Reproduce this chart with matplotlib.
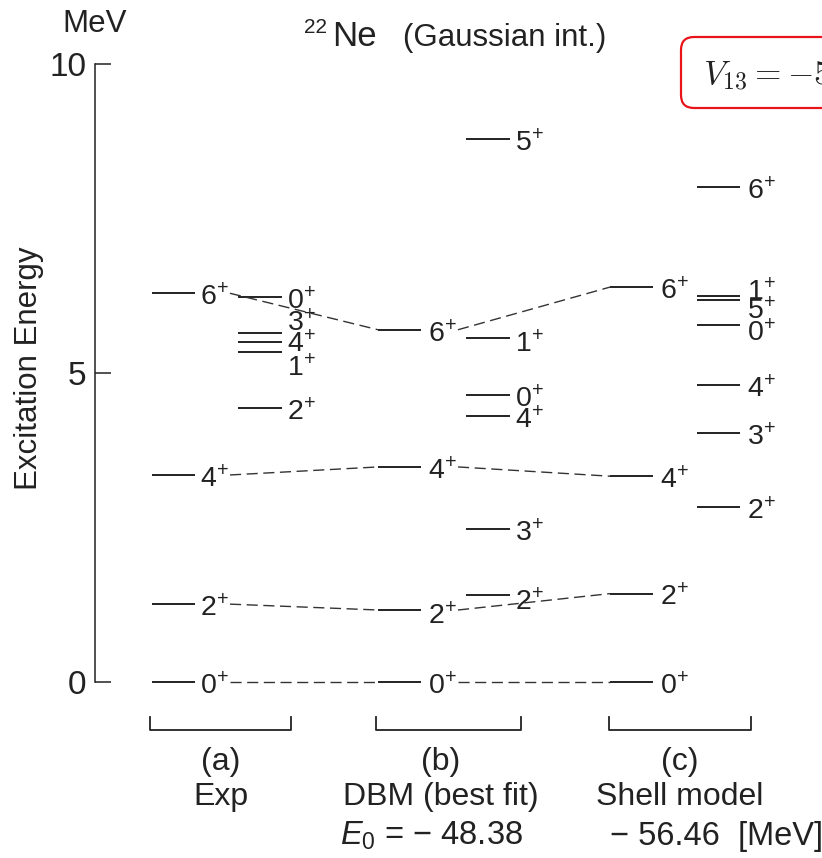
import matplotlib
matplotlib.use("Agg")
import matplotlib.pyplot as plt
from matplotlib.patches import FancyBboxPatch

plt.rcParams['font.family'] = ['Liberation Sans', 'DejaVu Sans']
plt.rcParams['mathtext.fontset'] = 'custom'
plt.rcParams['mathtext.rm'] = 'Liberation Sans'
plt.rcParams['mathtext.it'] = 'Liberation Sans:italic'
plt.rcParams['mathtext.bf'] = 'Liberation Sans:bold'
plt.rcParams['lines.scale_dashes'] = False

INK = '#222222'

# level energies in MeV, spin J of each J^+ state
exp_spin = [0, 2, 4, 6]
exp_e = [0.0, 1.26, 3.35, 6.29]
exp2_spin = [2, 1, 4, 3, 0]
exp2_e = [4.43, 5.34, 5.50, 5.65, 6.23]

dbm_spin = [0, 2, 4, 6]
dbm_e = [0.0, 1.165, 3.48, 5.70]
dbm2_spin = [2, 3, 4, 0, 1, 5]
dbm2_e = [1.40, 2.47, 4.30, 4.64, 5.57, 8.79]

sm_spin = [0, 2, 4, 6]
sm_e = [0.0, 1.43, 3.33, 6.39]
sm2_spin = [2, 3, 4, 0, 5, 1, 6]
sm2_e = [2.83, 4.03, 4.81, 5.78, 6.18, 6.25, 8.01]

panel_tags = ['(a)', '(b)', '(c)']
panel_names = ['Exp', 'DBM (best fit)', 'Shell model']
e0_dbm = -48.38
e0_sm = -56.46

W, H = 822, 858
PX_PER_MEV = 61.8
Y0 = 682  # pixel row of 0 MeV

fig = plt.figure(figsize=(W / 100, H / 100), dpi=100)
ax = fig.add_axes([0, 0, 1, 1])
ax.set_xlim(0, W)
ax.set_ylim(-(H - Y0) / PX_PER_MEV, Y0 / PX_PER_MEV)
ax.patch.set_alpha(0)

for s in ['top', 'right', 'bottom']:
    ax.spines[s].set_visible(False)
ax.spines['left'].set_position(('data', 95))
ax.spines['left'].set_bounds(0, 10)
ax.spines['left'].set_linewidth(1.1)
ax.spines['left'].set_color(INK)
ax.set_xticks([])
ax.set_yticks([0, 5, 10])
ax.tick_params(axis='y', direction='in', length=11.5, width=1.1, pad=6,
               labelsize=24, colors=INK)


def fpx(x, y):
    return x / W, 1 - y / H


# column layout: line start, line end, label x (pixels)
cols = {
    'exp': (152, 195, 200), 'exp2': (238, 282, 287),
    'dbm': (378, 421, 428), 'dbm2': (466, 510, 515),
    'sm': (610, 653, 660), 'sm2': (697, 740, 747),
}
nudge = {
    'exp2': {3: -14, 4: -2, 1: 12},
    'dbm': {2: 2},
    'dbm2': {2: 3, 1: 2},
    'sm2': {1: -8, 5: 7, 0: 4},
}
schemes = [('exp', exp_spin, exp_e), ('exp2', exp2_spin, exp2_e),
           ('dbm', dbm_spin, dbm_e), ('dbm2', dbm2_spin, dbm2_e),
           ('sm', sm_spin, sm_e), ('sm2', sm2_spin, sm2_e)]

for key, spins, energies in schemes:
    x0, x1, lx = cols[key]
    for j, e in zip(spins, energies):
        ax.plot([x0, x1], [e, e], color=INK, lw=1.4, solid_capstyle='butt')
        dy = 12 + nudge.get(key, {}).get(j, 0)
        ax.annotate(rf"$\mathregular{{{j}^{{+}}}}$", xy=(lx, e),
                    xytext=(0, -dy * 0.72), textcoords='offset points',
                    ha='left', va='baseline', fontsize=20.5, color=INK)

# dashed lines joining the yrast states
for i in range(len(exp_spin)):
    ax.plot([cols['exp'][2] + 30, cols['dbm'][0]], [exp_e[i], dbm_e[i]],
            color='#333333', lw=1.0, dashes=(8, 4))
    ax.plot([cols['dbm'][2] + 30, cols['sm'][0]], [dbm_e[i], sm_e[i]],
            color='#333333', lw=1.0, dashes=(8, 4))

# brackets under each panel
b_top, b_bot = -0.57, -0.78
for x0, x1 in [(150, 291), (376, 521), (609, 751)]:
    ax.plot([x0, x0, x1, x1], [b_top, b_bot, b_bot, b_top], color=INK,
            lw=1.3, clip_on=False)

for tag, name, xc in zip(panel_tags, panel_names, [221, 441, 680]):
    fig.text(*fpx(xc, 762), tag, ha='center', va='center', fontsize=23,
             color=INK)
    fig.text(*fpx(xc, 797), name, ha='center', va='center', fontsize=23,
             color=INK)

fig.text(*fpx(340, 845), r"$E_{\mathregular{0}}$ = $-$ " + f"{abs(e0_dbm):.2f}",
         ha='left', va='baseline', fontsize=23.5, color=INK)
fig.text(*fpx(610, 845), "\u2212 " + f"{abs(e0_sm):.2f}  [MeV]",
         ha='left', va='baseline', fontsize=23.5, color=INK)

# axis titles
fig.text(*fpx(29, 368), 'Excitation Energy', rotation=90, ha='center',
         va='center', fontsize=22.5, color=INK)
fig.text(*fpx(95, 24), 'MeV', ha='center', va='center', fontsize=22.5,
         color=INK)

# title
fig.text(*fpx(304, 33), '22', ha='left', va='baseline', fontsize=15,
         color=INK)
fig.text(*fpx(332, 46), 'Ne', ha='left', va='baseline', fontsize=25,
         color=INK)
fig.text(*fpx(403, 46), '(Gaussian int.)', ha='left', va='baseline',
         fontsize=22.5, color=INK)

# red annotation box, cut at the right edge
box = FancyBboxPatch((6.81, (H - 108) / 100), 2.0, 0.71,
                     boxstyle='round,pad=0,rounding_size=0.13',
                     transform=fig.dpi_scale_trans, fc='white',
                     ec='#e8141a', lw=1.6)
fig.add_artist(box)
fig.text(*fpx(703, 85), r"$V_{13} = -5$", math_fontfamily='cm',
         ha='left', va='baseline', fontsize=24.5, color=INK)

fig.savefig('out.png', dpi=100)
